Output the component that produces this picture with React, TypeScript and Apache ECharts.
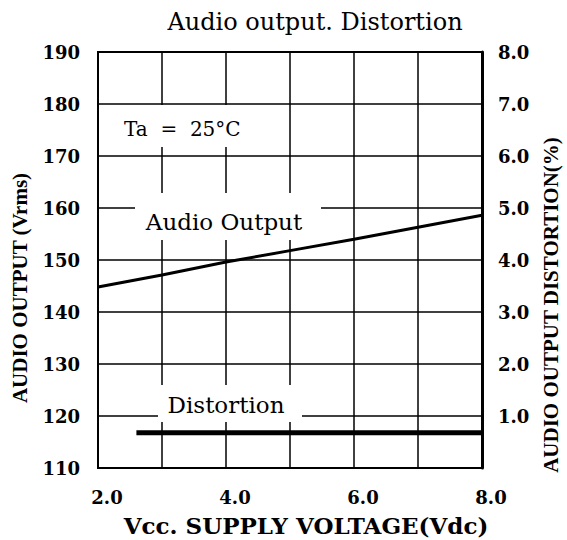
import React, { useEffect, useRef } from 'react';
import * as echarts from 'echarts';

// Supply voltage (Vdc) points and readings
const audioVoltage = [2, 3, 4, 5, 6, 7, 8];
const audioOutput = [144.8, 147.1, 149.6, 151.8, 154.0, 156.3, 158.6];
const distVoltage = [2.6, 8];
const distortion = [0.68, 0.68];

const titleText = 'Audio output. Distortion';
const xName = 'Vcc. SUPPLY VOLTAGE(Vdc)';
const yLeftName = 'AUDIO OUTPUT (Vrms)';
const yRightName = 'AUDIO OUTPUT DISTORTION(%)';
const noteTa = 'Ta  =  25°C';
const labelAudio = 'Audio Output';
const labelDist = 'Distortion';

const tickFont = { color: '#000', fontFamily: 'DejaVu Serif', fontWeight: 'bold' as const, fontSize: 18 };

export default function App() {
  const ref = useRef<HTMLDivElement>(null);
  useEffect(() => {
    const chart = echarts.init(ref.current!, null, { renderer: 'svg' });
    chart.setOption({
      animation: false,
      backgroundColor: '#fff',
      grid: { left: 98, top: 52, width: 384, height: 416, show: true, borderColor: '#000', borderWidth: 2, backgroundColor: 'transparent' },
      xAxis: {
        type: 'value', min: 2, max: 8, interval: 1,
        axisLine: { show: true, lineStyle: { color: '#000', width: 2 } },
        axisTick: { show: false },
        splitLine: { show: true, lineStyle: { color: '#000', width: 1.5 } },
        axisLabel: { ...tickFont, margin: 20, padding: [0, 0, 0, 18], formatter: (v: number) => (v % 2 === 0 ? v.toFixed(1) : '') },
      },
      yAxis: [
        {
          type: 'value', min: 110, max: 190, interval: 10, position: 'left',
          axisLine: { show: true, lineStyle: { color: '#000', width: 2 } },
          axisTick: { show: false },
          splitLine: { show: true, lineStyle: { color: '#000', width: 1.5 } },
          axisLabel: { ...tickFont, margin: 18, formatter: (v: number) => String(v) },
        },
        {
          type: 'value', min: 0, max: 8, interval: 1, position: 'right',
          axisLine: { show: true, lineStyle: { color: '#000', width: 3 } },
          axisTick: { show: false },
          splitLine: { show: false },
          axisLabel: { ...tickFont, margin: 16, formatter: (v: number) => (v === 0 ? '' : v.toFixed(1)) },
        },
      ],
      series: [
        {
          type: 'line', yAxisIndex: 0, symbol: 'none', z: 5,
          data: audioVoltage.map((x, i) => [x, audioOutput[i]]),
          lineStyle: { color: '#000', width: 3 },
        },
        {
          type: 'line', yAxisIndex: 1, symbol: 'none', z: 5,
          data: distVoltage.map((x, i) => [x, distortion[i]]),
          lineStyle: { color: '#000', width: 5 },
        },
      ],
      graphic: [
        { type: 'rect', z: 1, shape: { x: 112, y: 105, width: 138, height: 42 }, style: { fill: '#fff' } },
        { type: 'rect', z: 1, shape: { x: 135, y: 193, width: 186, height: 47 }, style: { fill: '#fff' } },
        { type: 'rect', z: 1, shape: { x: 158, y: 385, width: 144, height: 37 }, style: { fill: '#fff' } },
        { type: 'text', z: 10, x: 315, y: 22, style: { text: titleText, fill: '#000', fontFamily: 'DejaVu Serif', fontSize: 24, textAlign: 'center', textVerticalAlign: 'middle' } },
        { type: 'text', z: 10, x: 124, y: 129, style: { text: noteTa, fill: '#000', fontFamily: 'DejaVu Serif', fontSize: 20, textAlign: 'left', textVerticalAlign: 'middle' } },
        { type: 'text', z: 10, x: 224, y: 222, style: { text: labelAudio, fill: '#000', fontFamily: 'DejaVu Serif', fontSize: 23, textAlign: 'center', textVerticalAlign: 'middle' } },
        { type: 'text', z: 10, x: 226, y: 405, style: { text: labelDist, fill: '#000', fontFamily: 'DejaVu Serif', fontSize: 23, textAlign: 'center', textVerticalAlign: 'middle' } },
        { type: 'text', z: 10, x: 306, y: 525, style: { text: xName, fill: '#000', fontFamily: 'DejaVu Serif', fontWeight: 'bold', fontSize: 23, textAlign: 'center', textVerticalAlign: 'middle' } },
        { type: 'text', z: 10, x: 20, y: 288, rotation: Math.PI / 2, style: { text: yLeftName, fill: '#000', fontFamily: 'Liberation Serif', fontWeight: 'bold', fontSize: 21, textAlign: 'center', textVerticalAlign: 'middle' } },
        { type: 'text', z: 10, x: 551, y: 305, rotation: Math.PI / 2, style: { text: yRightName, fill: '#000', fontFamily: 'Liberation Serif', fontWeight: 'bold', fontSize: 21, textAlign: 'center', textVerticalAlign: 'middle' } },
      ],
    });
    return () => chart.dispose();
  }, []);
  return <div ref={ref} style={{ position: 'absolute', left: 0, top: 0, width: 567, height: 540, background: '#fff' }} />;
}
